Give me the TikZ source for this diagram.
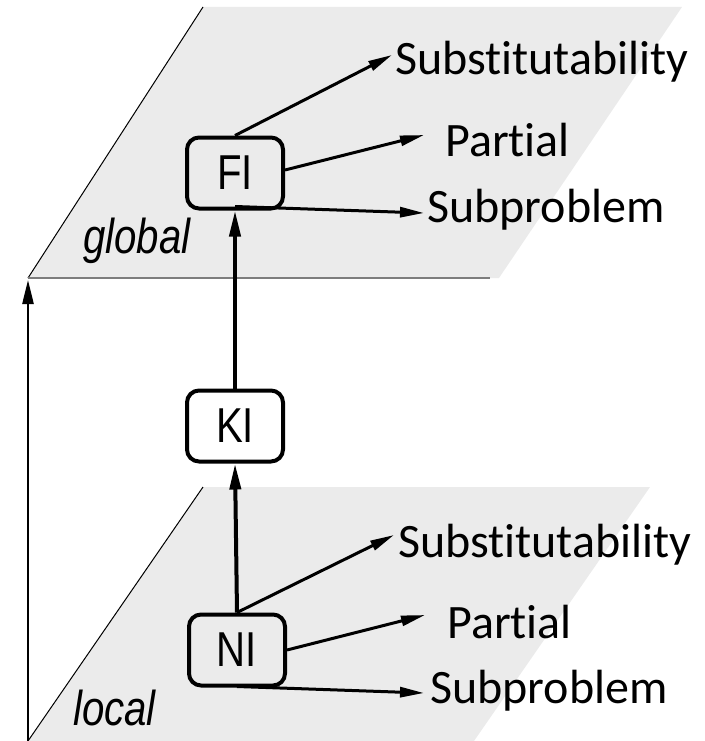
\documentclass[tikz,border=0pt]{standalone}
\usepackage{fontspec}
\setmainfont{Carlito}[Ligatures={NoCommon}]
\newfontfamily\narrowfont[FakeStretch=0.82]{Liberation Sans}
\usetikzlibrary{arrows.meta}
\definecolor{planegray}{RGB}{235,235,235}
\definecolor{edgegray}{RGB}{125,125,125}
\begin{document}
\begin{tikzpicture}[x=1pt,y=-1pt,
  lvlbox/.style={draw,line width=4pt,rounded corners=12pt,minimum width=96pt,minimum height=71pt,inner sep=0pt,font=\narrowfont\fontsize{49}{52}\selectfont},
  outlabel/.style={anchor=base west,inner sep=0pt,font=\fontsize{48}{52}\selectfont},
  planelabel/.style={anchor=base west,inner sep=0pt,font=\narrowfont\itshape\fontsize{49}{52}\selectfont},
  uparrow/.style={line width=4pt,-{Triangle[length=26pt,width=11pt]}},
  outarrow/.style={line width=3pt,-{Triangle[length=24pt,width=10pt]}}]
\useasboundingbox (0,0) rectangle (704,741);
% planes
\fill[planegray] (203,7) -- (682,7) -- (499,278) -- (28,278) -- cycle;
\draw[line width=1pt] (28,278) -- (203,7);
\draw[edgegray,line width=2.5pt] (28,278) -- (490,278);
\fill[planegray] (203,487) -- (650,487) -- (474,741) -- (28,741) -- cycle;
\draw[line width=1pt] (28,741) -- (203,487);
% left axis arrow
\coordinate (axbot) at (28,741);
\coordinate (axtop) at (28,280);
\draw[line width=2.5pt,-{Triangle[length=24pt,width=11pt]}] (axbot) -- (axtop);
% plane labels
\node[planelabel] (glob) at (83,253) {global};
\node[planelabel] (loc) at (73,725) {local};
% boxes
\node[lvlbox] (FI) at (235,173) {FI};
\node[lvlbox] (KI) at (235,426) {KI};
\node[lvlbox] (NI) at (237,650) {NI};
% labels
\node[outlabel] (s1) at (395,75) {Substitutability};
\node[outlabel] (p1) at (445,157) {Partial};
\node[outlabel] (sb1) at (427,222) {Subproblem};
\node[outlabel] (s2) at (398,557) {Substitutability};
\node[outlabel] (p2) at (447,638) {Partial};
\node[outlabel] (sb2) at (430,703) {Subproblem};
% vertical arrows
\draw[uparrow] (KI.north) -- (FI.south);
\draw[uparrow] (NI.north) -- (KI.south);
% outgoing arrows
\draw[outarrow] (FI.north) -- ([shift={(-3,-20)}]s1.base west);
\draw[outarrow] ([yshift=3pt]FI.east) -- ([shift={(-21,-22)}]p1.base west);
\draw[outarrow] ([yshift=4pt]FI.south) -- ([shift={(-3,-9)}]sb1.base west);
\draw[outarrow] (NI.north) -- ([shift={(-4,-22)}]s2.base west);
\draw[outarrow] (NI.east) -- ([shift={(-22,-23)}]p2.base west);
\draw[outarrow] ([yshift=1pt]NI.south) -- ([shift={(-6,-10)}]sb2.base west);
\end{tikzpicture}
\end{document}
